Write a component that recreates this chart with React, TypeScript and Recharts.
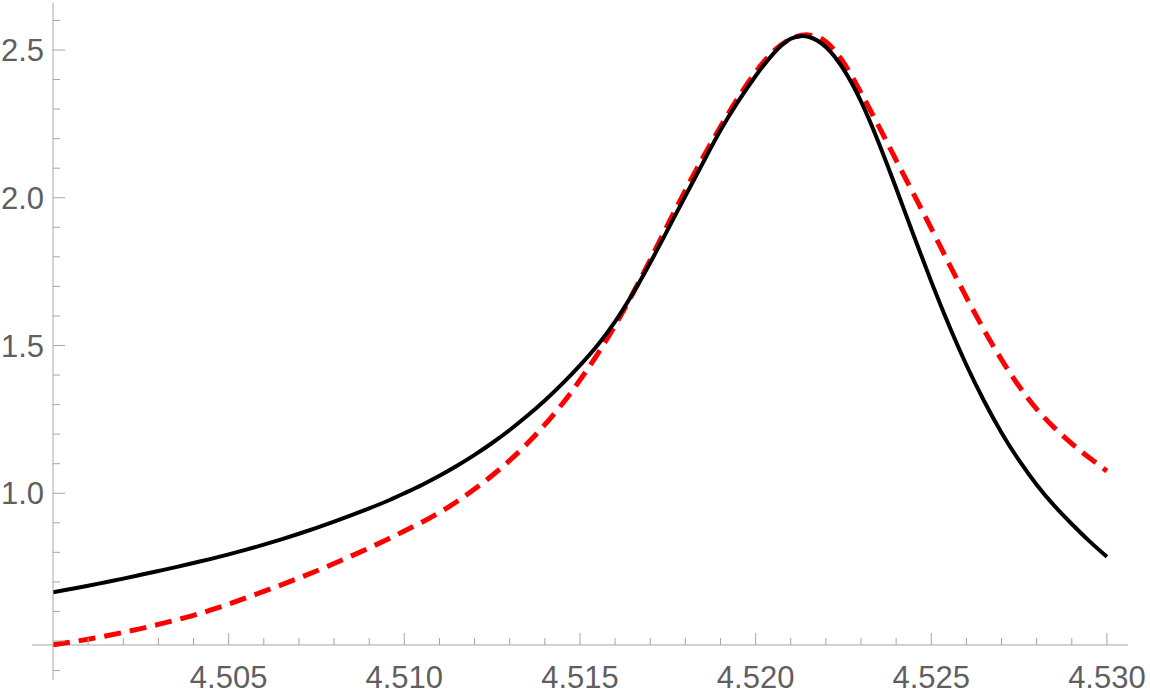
import React from "react";
import { LineChart, Line, XAxis, YAxis, ReferenceLine, ReferenceDot } from "recharts";

// sample positions along the x axis
const xValues = [
  4.5, 4.5005, 4.501, 4.5015, 4.502, 4.5025, 4.503, 4.5035, 4.504, 4.5045,
  4.505, 4.5055, 4.506, 4.5065, 4.507, 4.5075, 4.508, 4.5085, 4.509, 4.5095,
  4.51, 4.5105, 4.511, 4.5115, 4.512, 4.5125, 4.513, 4.5135, 4.514, 4.5145,
  4.515, 4.5155, 4.516, 4.5165, 4.517, 4.5175, 4.518, 4.5185, 4.519, 4.5195,
  4.52, 4.5205, 4.521, 4.5215, 4.522, 4.5225, 4.523, 4.5235, 4.524, 4.5245,
  4.525, 4.5255, 4.526, 4.5265, 4.527, 4.5275, 4.528, 4.5285, 4.529, 4.5295,
  4.53,
];

// solid black curve
const blackValues = [
  0.665, 0.676, 0.687, 0.699, 0.711, 0.724, 0.737, 0.75, 0.764, 0.778,
  0.793, 0.809, 0.826, 0.844, 0.863, 0.883, 0.904, 0.926, 0.949, 0.973,
  1.0, 1.028, 1.059, 1.093, 1.13, 1.17, 1.214, 1.262, 1.314, 1.371,
  1.433, 1.501, 1.581, 1.675, 1.78, 1.892, 2.006, 2.118, 2.228, 2.325,
  2.412, 2.487, 2.538, 2.545, 2.51, 2.435, 2.326, 2.187, 2.032, 1.872,
  1.716, 1.569, 1.434, 1.313, 1.205, 1.111, 1.029, 0.958, 0.896, 0.838,
  0.785,
];

// dashed red curve
const redValues = [
  0.487, 0.496, 0.506, 0.517, 0.529, 0.542, 0.556, 0.571, 0.587, 0.605,
  0.625, 0.646, 0.668, 0.69, 0.713, 0.737, 0.762, 0.788, 0.815, 0.843,
  0.872, 0.902, 0.935, 0.972, 1.014, 1.06, 1.111, 1.168, 1.232, 1.303,
  1.383, 1.471, 1.568, 1.675, 1.79, 1.909, 2.025, 2.136, 2.24, 2.338,
  2.425, 2.495, 2.538, 2.551, 2.528, 2.458, 2.355, 2.243, 2.127, 2.012,
  1.896, 1.778, 1.663, 1.553, 1.452, 1.362, 1.285, 1.222, 1.168, 1.12,
  1.075,
];

const xTicks = [
  4.501, 4.502, 4.503, 4.504, 4.505, 4.506, 4.507, 4.508, 4.509, 4.51,
  4.511, 4.512, 4.513, 4.514, 4.515, 4.516, 4.517, 4.518, 4.519, 4.52,
  4.521, 4.522, 4.523, 4.524, 4.525, 4.526, 4.527, 4.528, 4.529, 4.53,
];
const xLabelValues = [4.505, 4.51, 4.515, 4.52, 4.525, 4.53];
const xTickLabels = ["4.505", "4.510", "4.515", "4.520", "4.525", "4.530"];

const yTicks = [
  0.4, 0.5, 0.6, 0.7, 0.8, 0.9, 1.0, 1.1, 1.2, 1.3, 1.4, 1.5,
  1.6, 1.7, 1.8, 1.9, 2.0, 2.1, 2.2, 2.3, 2.4, 2.5, 2.6,
];
const yMajorTicks = [0.5, 1.0, 1.5, 2.0, 2.5];
const yLabelValues = [1.0, 1.5, 2.0, 2.5];
const yTickLabels = ["1.0", "1.5", "2.0", "2.5"];

// where the horizontal axis crosses, and the plotted ranges
const xAxisCrossing = 0.4865;
const xDomain = [4.5, 4.5306];
const yDomain = [0.368, 2.659];
const xAxisExtent = [4.4994, 4.5306];

const rows = xValues.map((x, i) => ({ x, black: blackValues[i], red: redValues[i] }));

const axisColor = "#a6a6a6";
const labelColor = "#5f5f5f";
const labelFont = "'Liberation Sans', Arial, sans-serif";

const near = (a: number, b: number) => Math.abs(a - b) < 1e-6;

const YTick = (props: any) => {
  const { x, y, payload } = props;
  const v = payload.value;
  const major = yMajorTicks.some((m) => near(m, v));
  const idx = yLabelValues.findIndex((m) => near(m, v));
  return (
    <g>
      <line x1={x} x2={x + (major ? 12 : 7)} y1={y} y2={y} stroke={axisColor} strokeWidth={1} />
      {idx >= 0 && (
        <text
          x={x - 9}
          y={y}
          dy="0.36em"
          textAnchor="end"
          fill={labelColor}
          fontSize={31}
          fontFamily={labelFont}
        >
          {yTickLabels[idx]}
        </text>
      )}
    </g>
  );
};

const xTickShape = (value: number) => (props: any) => {
  const { cx, cy } = props;
  const idx = xLabelValues.findIndex((m) => near(m, value));
  const major = idx >= 0;
  return (
    <g>
      <line x1={cx} x2={cx} y1={cy} y2={cy - (major ? 12 : 7)} stroke={axisColor} strokeWidth={1} />
      {major && (
        <text
          x={cx}
          y={cy + 43}
          textAnchor="middle"
          fill={labelColor}
          fontSize={31}
          fontFamily={labelFont}
        >
          {xTickLabels[idx]}
        </text>
      )}
    </g>
  );
};

const App: React.FC = () => {
  return (
    <div style={{ position: "absolute", left: 0, top: 0, background: "#fff" }}>
      <LineChart
        width={1150}
        height={700}
        data={rows}
        margin={{ top: 3, right: 22, bottom: 20, left: 0 }}
      >
        <XAxis type="number" dataKey="x" domain={xDomain} allowDataOverflow hide />
        <YAxis
          type="number"
          domain={yDomain}
          allowDataOverflow
          width={53}
          ticks={yTicks}
          interval={0}
          tickSize={0}
          tickMargin={0}
          tickLine={false}
          axisLine={{ stroke: axisColor, strokeWidth: 1 }}
          tick={<YTick />}
        />
        <ReferenceLine
          segment={[
            { x: xAxisExtent[0], y: xAxisCrossing },
            { x: xAxisExtent[1], y: xAxisCrossing },
          ]}
          stroke={axisColor}
          strokeWidth={1}
          ifOverflow="visible"
        />
        {xTicks.map((t) => (
          <ReferenceDot
            key={t}
            x={t}
            y={xAxisCrossing}
            r={0}
            ifOverflow="visible"
            shape={xTickShape(t)}
          />
        ))}
        <Line
          type="natural"
          dataKey="red"
          stroke="#ff0000"
          strokeWidth={5}
          strokeDasharray="17 9"
          dot={false}
          isAnimationActive={false}
        />
        <Line
          type="natural"
          dataKey="black"
          stroke="#000000"
          strokeWidth={4}
          dot={false}
          isAnimationActive={false}
        />
      </LineChart>
    </div>
  );
};

export default App;
